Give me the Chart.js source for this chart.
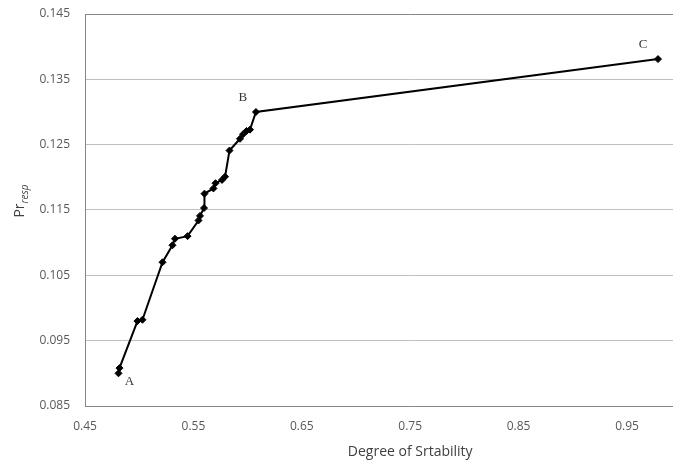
<!DOCTYPE html>
<html>
<head>
<meta charset="utf-8">
<script src="https://cdn.jsdelivr.net/npm/chart.js@4/dist/chart.umd.min.js"></script>
<style>
  html, body { margin: 0; padding: 0; background: #fff; overflow: hidden; }
  #wrap { width: 673px; height: 465px; overflow: hidden; }
</style>
</head>
<body>
<div id="wrap"><canvas id="chart" width="760" height="465"></canvas></div>
<script>
// Data
const stability = [0.4809, 0.4818, 0.4984, 0.5030, 0.5215, 0.5307, 0.5330, 0.5446, 0.5547, 0.5561,
    0.5598, 0.5602, 0.5685, 0.5704, 0.5764, 0.5792, 0.5833, 0.5930, 0.5958, 0.5990, 0.6022, 0.6077, 0.9786];
const prResp = [0.0900, 0.0908, 0.0980, 0.0982, 0.1070, 0.1096, 0.1106, 0.1110, 0.1134, 0.1141,
    0.1153, 0.1175, 0.1183, 0.1191, 0.1196, 0.1201, 0.1241, 0.1259, 0.1266, 0.1271, 0.1273, 0.1300, 0.1381];
const xTicks = [0.45, 0.55, 0.65, 0.75, 0.85, 0.95];
const yTicks = [0.085, 0.095, 0.105, 0.115, 0.125, 0.135, 0.145];
// point labels: index in series, text, offset
const pointLabels = [
    { index: 0, text: 'A', dx: 11, dy: 8 },
    { index: 21, text: 'B', dx: -13, dy: -14 },
    { index: 22, text: 'C', dx: -15, dy: -15 }
];

const points = stability.map((x, i) => ({ x: x, y: prResp[i] }));

// y axis title with subscript, plus A/B/C annotations
const extras = {
    id: 'extras',
    afterDraw(chart) {
        const ctx = chart.ctx;
        const xs = chart.scales.x, ys = chart.scales.y;

        ctx.save();
        ctx.fillStyle = '#333';
        ctx.font = '13px "Liberation Serif", serif';
        ctx.textAlign = 'center';
        ctx.textBaseline = 'middle';
        pointLabels.forEach(l => {
            const px = xs.getPixelForValue(stability[l.index]);
            const py = ys.getPixelForValue(prResp[l.index]);
            ctx.fillText(l.text, px + l.dx, py + l.dy);
        });
        ctx.restore();

        ctx.save();
        ctx.fillStyle = '#404040';
        ctx.translate(0, 201);
        ctx.rotate(-Math.PI / 2);
        ctx.textBaseline = 'alphabetic';
        ctx.textAlign = 'left';
        const bigFont = '14px "Open Sans", sans-serif';
        const subFont = 'italic 10px "Open Sans", sans-serif';
        ctx.font = bigFont;
        const w1 = ctx.measureText('Pr').width;
        ctx.font = subFont;
        const w2 = ctx.measureText('resp').width;
        const start = -(w1 + w2) / 2;
        ctx.font = bigFont;
        ctx.fillText('Pr', start, 24);
        ctx.font = subFont;
        ctx.fillText('resp', start + w1, 28);
        ctx.restore();
    }
};

new Chart(document.getElementById('chart'), {
    type: 'scatter',
    data: {
        datasets: [{
            data: points,
            showLine: true,
            borderColor: '#000',
            borderWidth: 2,
            backgroundColor: '#000',
            pointStyle: 'rectRot',
            pointRadius: 3.5,
            pointBorderWidth: 1,
            tension: 0
        }]
    },
    options: {
        responsive: false,
        animation: false,
        devicePixelRatio: 1,
        layout: { padding: { left: 0, top: 14, right: 24.6, bottom: 0 } },
        plugins: { legend: { display: false }, tooltip: { enabled: false } },
        scales: {
            x: {
                type: 'linear',
                min: 0.45,
                max: 1.05,
                afterBuildTicks: scale => { scale.ticks = xTicks.map(v => ({ value: v })); },
                afterFit: scale => { scale.height = 59; },
                grid: { drawOnChartArea: false, drawTicks: false },
                border: { display: true, color: '#868686', width: 1 },
                ticks: {
                    padding: 13,
                    color: '#595959',
                    font: { family: '"Open Sans", sans-serif', size: 12 },
                    maxRotation: 0,
                    callback: v => v.toFixed(2)
                },
                title: {
                    display: true,
                    text: 'Degree of Srtability',
                    color: '#404040',
                    font: { family: '"Open Sans", sans-serif', size: 14 },
                    padding: { top: 0, bottom: 5 }
                }
            },
            y: {
                type: 'linear',
                min: 0.085,
                max: 0.145,
                afterBuildTicks: scale => { scale.ticks = yTicks.map(v => ({ value: v })); },
                afterFit: scale => {
                    scale.width = 85;
                    // tick padding is added to the label overhang; drop it so the top stays at 14px
                    scale.paddingTop = 0;
                    scale.paddingBottom = 0;
                },
                grid: {
                    drawTicks: false,
                    color: ctx => (ctx.tick && ctx.tick.value === 0.145) ? '#868686' : '#c0c0c0',
                    lineWidth: 1
                },
                border: { display: true, color: '#868686', width: 1 },
                ticks: {
                    padding: 15,
                    color: '#595959',
                    font: { family: '"Open Sans", sans-serif', size: 12 },
                    callback: v => v.toFixed(3)
                }
            }
        }
    },
    plugins: [extras]
});
</script>
</body>
</html>
